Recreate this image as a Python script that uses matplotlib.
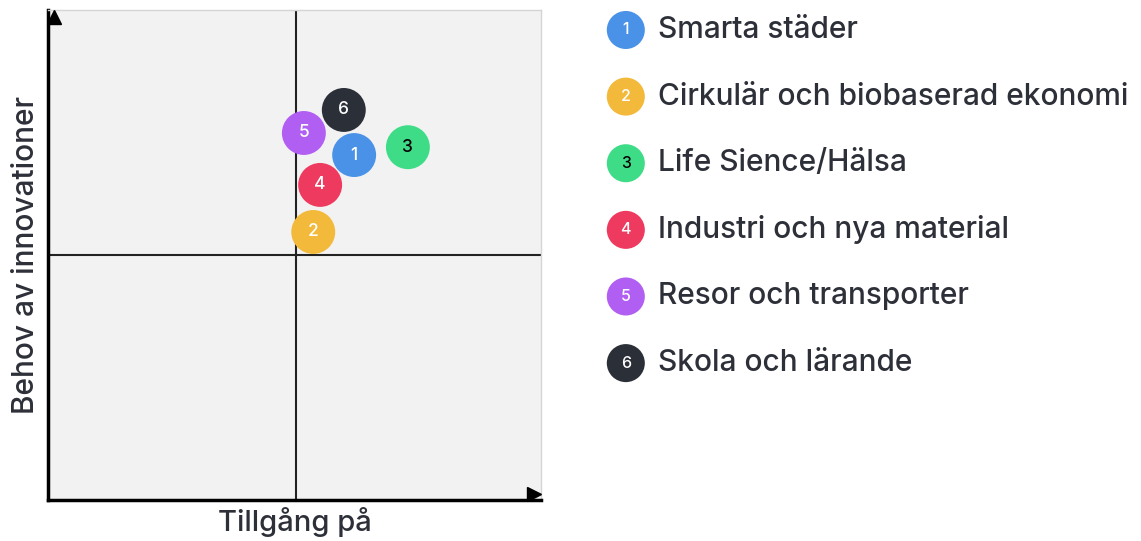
import matplotlib.pyplot as plt

# data
ids = ['1', '2', '3', '4', '5', '6']
names = ['Smarta städer', 'Cirkulär och biobaserad ekonomi', 'Life Sience/Hälsa',
         'Industri och nya material', 'Resor och transporter', 'Skola och lärande']
tillgang = [6.21, 5.38, 7.30, 5.52, 5.19, 6.00]
behov = [7.04, 5.47, 7.20, 6.43, 7.49, 7.96]
colors = ['#4a92e8', '#f2b93b', '#3fdc88', '#ee3a5e', '#b15ef2', '#2b2f38']
numcolors = ['white', 'white', 'black', 'white', 'white', 'white']
draw_order = [1, 3, 4, 0, 5, 2]  # 2, 4, 5, 1, 6, 3

plt.rcParams['font.family'] = ['Inter', 'DejaVu Sans']
textcolor = '#2d3038'

fig = plt.figure(figsize=(11.41, 5.41), dpi=100)
ax = fig.add_axes([48/1141, 41/541, 493/1141, 490/541])
ax.set_facecolor('#f2f2f2')
ax.set_xlim(0, 10)
ax.set_ylim(0, 10)
ax.set_xticks([])
ax.set_yticks([])
for s in ['top', 'right']:
    ax.spines[s].set_color('#d5d5d5')
    ax.spines[s].set_linewidth(1)
for s in ['left', 'bottom']:
    ax.spines[s].set_color('black')
    ax.spines[s].set_linewidth(2.5)

ax.axvline(5.03, color='#222222', lw=1.5, zorder=1)
ax.axhline(5.0, color='#222222', lw=1.5, zorder=1)

# arrowheads
ax.plot([0.12], [9.85], marker='^', ms=10, color='black', clip_on=False, zorder=5)
ax.plot([9.85], [0.12], marker='>', ms=10, color='black', clip_on=False, zorder=5)

for i in draw_order:
    ax.scatter(tillgang[i], behov[i], s=1000, color=colors[i], edgecolors='none', zorder=3)
    ax.text(tillgang[i], behov[i], ids[i], color=numcolors[i], fontsize=12.5,
            fontweight='medium', ha='center', va='center', zorder=4)

ax.set_xlabel('Tillgång på', fontsize=21, color=textcolor, labelpad=5, fontweight='medium')
ax.set_ylabel('Behov av innovationer', fontsize=21.5, color=textcolor, labelpad=6,
              fontweight='medium')

# legend
lax = fig.add_axes([590/1141, 0, 551/1141, 1])
lax.set_xlim(0, 1)
lax.set_ylim(7.67, -0.45)
lax.axis('off')
rows = list(range(len(ids)))
lax.scatter([0.065]*len(rows), rows, s=750, c=colors, edgecolors='none')
for i in rows:
    lax.text(0.065, i, ids[i], color=numcolors[i], fontsize=11.5, ha='center', va='center',
             fontweight='medium')
    lax.text(0.123, i, names[i], color=textcolor, fontsize=21.5, ha='left', va='center',
             fontweight='medium')

fig.savefig('out.png', dpi=100)
